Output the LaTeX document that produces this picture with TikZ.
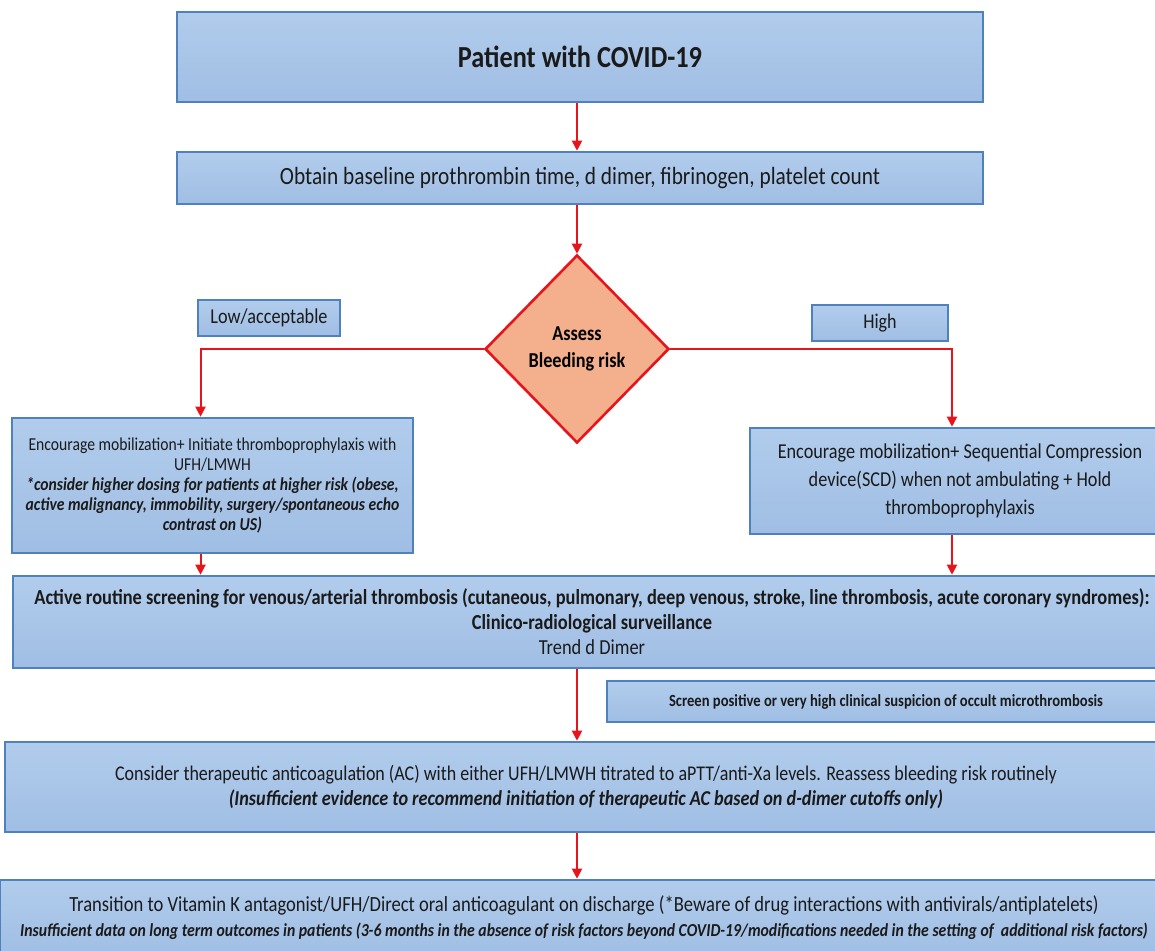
\documentclass[tikz,border=0pt]{standalone}
\usepackage{fontspec}
\setmainfont{Carlito}[FakeStretch=0.86]
\usetikzlibrary{arrows.meta,positioning,shapes.geometric,calc}
\definecolor{boxtop}{HTML}{B1CCEC}
\definecolor{boxblue}{HTML}{A0BEE4}
\definecolor{edgeblue}{HTML}{4F81BD}
\definecolor{riskpeach}{HTML}{F4B08C}
\definecolor{flowred}{HTML}{E8141B}
\definecolor{ink}{HTML}{1A1A1A}
\newcommand\caveat[1]{{\bfseries\itshape #1}}
\newcommand\fs[2][1.2]{\fontsize{#2}{#1\dimexpr#2pt\relax}\selectfont}

\begin{document}
\begin{tikzpicture}[
  x=0.5pt,y=-0.5pt,
  font=\fs{9},
  panel/.style={draw=edgeblue,line width=1.3pt,top color=boxtop,bottom color=boxblue,
                align=center,inner sep=2pt,text=ink},
  flow/.style={-{Triangle[length=5pt,width=5pt]},line width=1pt,draw=flowred}
]
\useasboundingbox (0,0) rectangle (1155,951);
\clip (0,0) rectangle (1155,951);
\coordinate (spine) at (577,0);

% main column
\node[panel,minimum width=403pt,minimum height=45pt,font=\bfseries\fs{15.3}]
  (patient) at (580,57) {Patient with COVID-19};
\node[panel,minimum width=403pt,minimum height=26pt,font=\fs{12.4}]
  (baseline) at (580,178)
  {Obtain baseline prothrombin time, d dimer, fibrinogen, platelet count};
\node[diamond,draw=flowred,line width=1.3pt,fill=riskpeach,inner sep=0pt,
      minimum width=92pt,minimum height=94pt,align=center,
      font={\bfseries\fs[1.25]{10.6}}]
  (risk) at (577,349) {Assess\\Bleeding risk};

% branch labels
\node[panel,minimum width=71pt,minimum height=18pt,font=\fs{10.6}]
  (lowtag) at (269,318) {Low/acceptable};
\node[panel,minimum width=68pt,minimum height=18pt,font=\fs{10.5}]
  (hightag) at (880,323) {High};

% branch actions
\node[panel,minimum width=200.5pt,minimum height=67.5pt,font={\fs[1.1]{9.1}}]
  (lowbox) at (212.5,485.5)
  {Encourage mobilization+ Initiate thromboprophylaxis with\\UFH/LMWH\\
   \caveat{*consider higher dosing for patients at higher risk (obese,}\\
   \caveat{active malignancy, immobility, surgery/spontaneous echo}\\
   \caveat{contrast on US)}};
\node[panel,minimum width=210pt,minimum height=53pt,font={\fs[1.32]{10.6}}]
  (highbox) at (960,481)
  {Encourage mobilization+ Sequential Compression\\
   device(SCD) when not ambulating + Hold\\thromboprophylaxis};

% surveillance and treatment
\node[panel,minimum width=579pt,minimum height=46pt,font={\fs[1.17]{10.7}}]
  (screen) at (592,622)
  {\textbf{Active routine screening for venous/arterial thrombosis (cutaneous, pulmonary, deep venous, stroke, line thrombosis, acute coronary syndromes):}\\
   \textbf{Clinico-radiological surveillance}\\Trend d Dimer};
\node[panel,minimum width=279pt,minimum height=20.5pt,font=\bfseries\fs{8.5}]
  (positive) at (886,701.5)
  {Screen positive or very high clinical suspicion of occult microthrombosis};
\node[panel,minimum width=581pt,minimum height=45pt,font={\fs[1.15]{10.46}}]
  (consider) at (586,787)
  {Consider therapeutic anticoagulation (AC) with either UFH/LMWH titrated to aPTT/anti-Xa levels. Reassess bleeding risk routinely\\
   {\fs{10.6}\caveat{(Insufficient evidence to recommend initiation of therapeutic AC based on d-dimer cutoffs only)}}};
\node[panel,minimum width=584pt,minimum height=38pt,font={\fs[1.15]{10.8}}]
  (transition) at (584,918)
  {Transition to Vitamin K antagonist/UFH/Direct oral anticoagulant on discharge (*Beware of drug interactions with antivirals/antiplatelets)\\
   {\fs{9.15}\caveat{Insufficient data on long term outcomes in patients (3-6 months in the absence of risk factors beyond COVID-19/modifications needed in the setting of\ \ additional risk factors)}}};

% connectors
\draw[flow] (patient.south -| spine) -- (baseline.north -| spine);
\draw[flow] (baseline.south -| spine) -- (risk.north);
\draw[flow] (risk.west) -| ([xshift=-6pt]lowbox.north);
\draw[flow] (risk.east) -| ([xshift=-4pt]highbox.north);
\draw[flow] ([xshift=-6pt]lowbox.south) -- ([xshift=-6pt]lowbox.south |- screen.north);
\draw[flow] ([xshift=-4pt]highbox.south) -- ([xshift=-4pt]highbox.south |- screen.north);
\draw[flow] (screen.south -| spine) -- (consider.north -| spine);
\draw[flow] (consider.south -| spine) -- (transition.north -| spine);
\end{tikzpicture}
\end{document}
